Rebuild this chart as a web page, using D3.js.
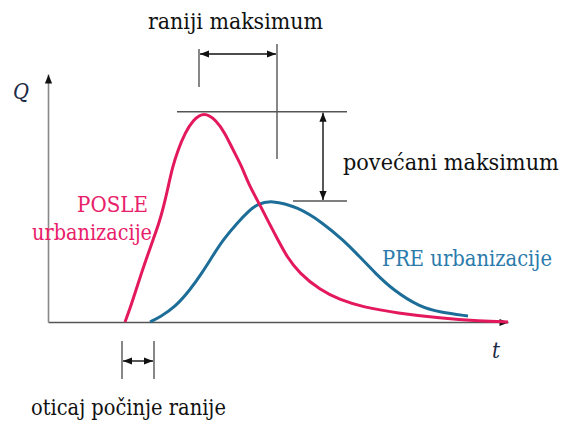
<!DOCTYPE html>
<html>
<head>
<meta charset="utf-8">
<script src="https://cdn.jsdelivr.net/npm/d3@7/dist/d3.min.js"></script>
<style>
  body { margin: 0; background: #fff; }
</style>
</head>
<body>
<div id="chart"></div>
<script>
// hydrograph before / after urbanisation (t in arbitrary time units, Q in % of axis)
const postT = [7.7, 8.25, 8.8, 9.35, 9.9, 10.5, 11.1, 11.55, 11.95, 12.45, 13.0, 13.7, 14.5, 15.6,
  16.8, 17.7, 18.5, 19.4, 20.0, 21.3, 22.1, 23.0, 23.9, 25.1, 27.2, 29.2, 31.5, 34.9, 39.2, 43.2, 46.0];
const postQ = [0, 6.0, 12.9, 19.8, 26.2, 33.1, 39.9, 46.4, 53.2, 62.5, 69.4, 76.2, 81.5, 84.8,
  81.5, 76.2, 69.4, 62.6, 56.0, 46.4, 39.9, 33.1, 26.2, 19.8, 12.9, 8.9, 6.0, 3.6, 1.6, 0.4, 0];

const preT = [10.2, 11.2, 12.7, 14.2, 15.4, 16.4, 17.5, 18.9, 20.2, 20.9, 22.3, 25.0, 27.5, 29.5, 31.2, 32.7, 34.5, 37.2, 39.2, 42.0];
const preQ = [0, 2.0, 6.0, 12.9, 19.8, 26.2, 33.1, 39.9, 45.2, 47.4, 49.2, 46.4, 39.9, 33.1, 26.2, 19.8, 12.9, 6.0, 4.0, 2.4];

const labels = {
  earlierPeak: "raniji maksimum",
  higherPeak: "povećani maksimum",
  post: ["POSLE", "urbanizacije"],
  pre: "PRE urbanizacije",
  earlierStart: "oticaj počinje ranije"
};

const width = 564, height = 424;
const pink = "#e3185d", blue = "#1c6d98";
const serif = "'DejaVu Serif Condensed', 'DejaVu Serif', 'Liberation Serif', serif";

const svg = d3.select("#chart").append("svg")
  .attr("width", width)
  .attr("height", height)
  .style("font-family", serif);

const x = d3.scaleLinear().domain([0, 46]).range([48, 508]);
const y = d3.scaleLinear().domain([0, 100]).range([322, 74]);

// arrow heads
const defs = svg.append("defs");
defs.append("marker")
  .attr("id", "head")
  .attr("viewBox", "0 0 10 10")
  .attr("refX", 10).attr("refY", 5)
  .attr("markerWidth", 10).attr("markerHeight", 9)
  .attr("markerUnits", "userSpaceOnUse")
  .attr("orient", "auto-start-reverse")
  .append("path")
  .attr("d", "M0,1L10,5L0,9z")
  .attr("fill", "#111");

// axes, only the lines with arrows
const xAxis = svg.append("g")
  .attr("transform", "translate(0,322)")
  .call(d3.axisBottom(x).tickValues([]).tickSizeOuter(0));
xAxis.select(".domain")
  .attr("stroke", "#555").attr("stroke-width", 1.6)
  .attr("marker-end", "url(#head)");

const yAxis = svg.append("g")
  .attr("transform", "translate(48,0)")
  .call(d3.axisLeft(y).tickValues([]).tickSizeOuter(0));
yAxis.select(".domain")
  .attr("stroke", "#888").attr("stroke-width", 1.6)
  .attr("marker-end", "url(#head)");

// text label, sized to the width it has in the source figure
function label(tx, ty, str, fitWidth, opts) {
  opts = opts || {};
  const t = svg.append("text")
    .attr("x", tx).attr("y", ty)
    .attr("font-family", serif)
    .attr("font-stretch", "condensed")
    .attr("font-size", 22)
    .attr("font-style", opts.italic ? "italic" : null)
    .attr("text-anchor", opts.anchor || "start")
    .attr("fill", opts.color || "#111")
    .text(str);
  if (fitWidth) {
    const w = t.node().getComputedTextLength();
    t.attr("font-size", 22 * fitWidth / w);
  }
  return t;
}

label(13, 99, "Q", 16, { italic: true, color: "#1d2a44" });
label(492, 358, "t", 8, { italic: true, color: "#1d2a44" });

// curves
const line = d3.line()
  .x(d => x(d[0]))
  .y(d => y(d[1]))
  .curve(d3.curveBasis);

svg.append("path")
  .datum(d3.zip(preT, preQ))
  .attr("d", line)
  .attr("fill", "none")
  .attr("stroke", blue)
  .attr("stroke-width", 3);

svg.append("path")
  .datum(d3.zip(postT, postQ))
  .attr("d", line)
  .attr("fill", "none")
  .attr("stroke", pink)
  .attr("stroke-width", 3);

// peak and start positions, taken from the series
const postPeak = d3.maxIndex(postQ), prePeak = d3.maxIndex(preQ);
const pxPost = x(postT[postPeak]), pxPre = x(preT[prePeak]);
const pyPost = y(postQ[postPeak]), pyPre = y(preQ[prePeak]);
const sxPost = x(postT[0]), sxPre = x(preT[0]);

const guide = "#555";
function seg(x1, y1, x2, y2, arrows) {
  const l = svg.append("line")
    .attr("x1", x1).attr("y1", y1)
    .attr("x2", x2).attr("y2", y2)
    .attr("stroke", arrows ? "#111" : guide)
    .attr("stroke-width", 1.4);
  if (arrows) l.attr("marker-start", "url(#head)").attr("marker-end", "url(#head)");
  return l;
}

// earlier peak bracket (drawn a little outside the two peaks, as in the figure)
const bl = pxPost - 5, br = pxPre + 6;
seg(bl, 49, bl, 87);
seg(br, 44, br, 159);
seg(bl + 1, 54, br - 1, 54, true);

// higher peak bracket
seg(177, pyPost, 347, pyPost);
seg(293, pyPre + 1, 347, pyPre + 1);
seg(323, pyPost + 1, 323, pyPre, true);

// earlier start bracket
seg(sxPost - 3, 341, sxPost - 3, 379);
seg(sxPre + 4, 341, sxPre + 4, 379);
seg(sxPost - 2, 361, sxPre + 3, 361, true);

// labels
label(148, 29, labels.earlierPeak, 175);
label(343, 170, labels.higherPeak, 216);
label(31, 415, labels.earlierStart, 195);
label(148, 212, labels.post[0], 71, { anchor: "end", color: "#e8206a" });
label(152, 240, labels.post[1], 120, { anchor: "end", color: "#e8206a" });
label(382, 266, labels.pre, 170, { color: "#2b7bac" });
</script>
</body>
</html>
